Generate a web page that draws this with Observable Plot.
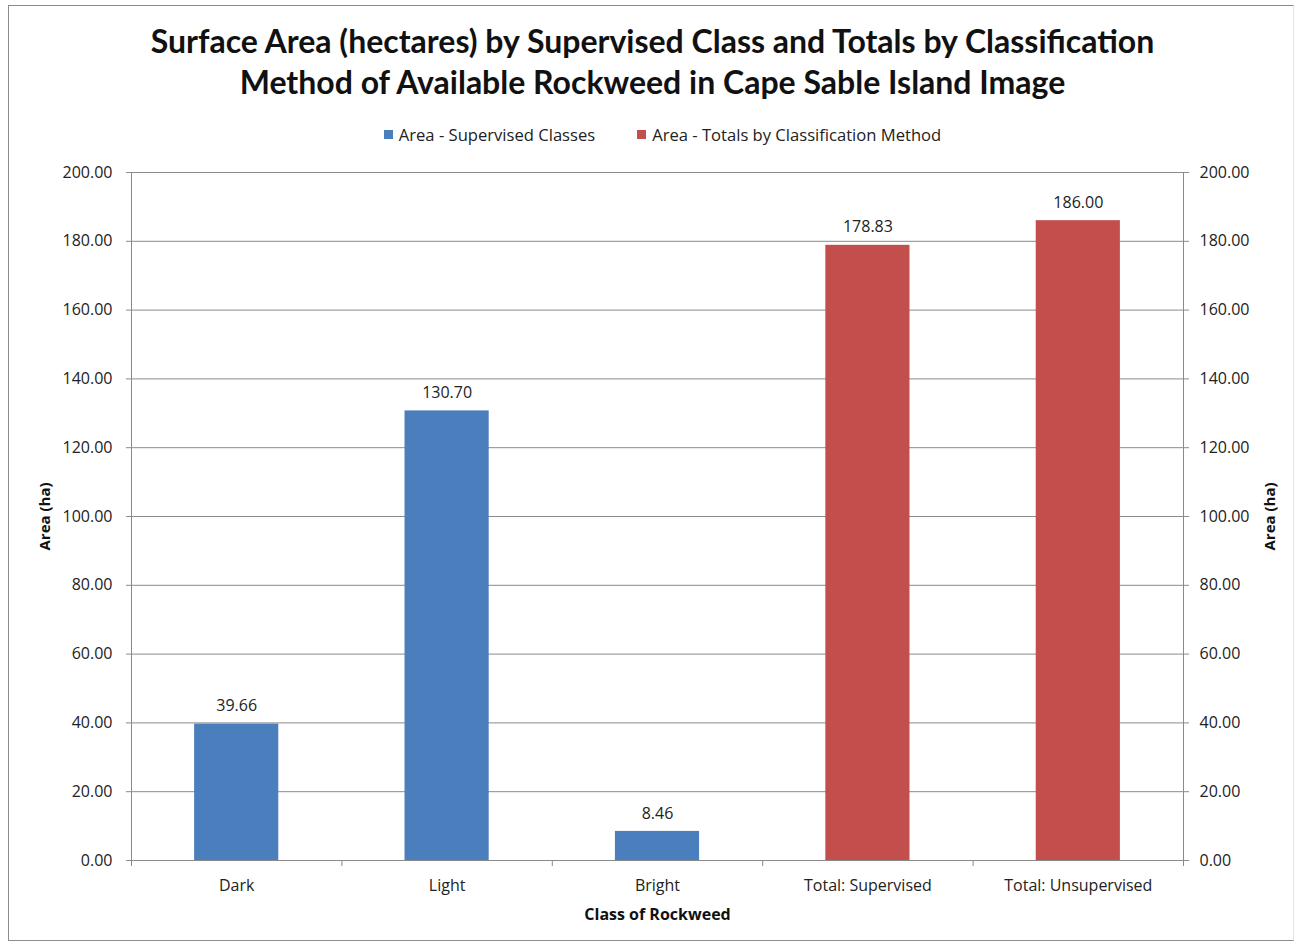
<!DOCTYPE html>
<html>
<head>
<meta charset="utf-8">
<script src="https://cdn.jsdelivr.net/npm/d3@7"></script>
<script src="https://cdn.jsdelivr.net/npm/@observablehq/plot@0.6"></script>
<style>
  html, body { margin: 0; padding: 0; background: #fff; }
  body { width: 1305px; height: 945px; position: relative; overflow: hidden; font-family: "Open Sans", sans-serif; }
  #frame { position: absolute; left: 8px; top: 5px; width: 1286px; height: 936px; border: 1.5px solid #8c8c8c; border-right-color: #e4e4e4; box-sizing: border-box; }
  #title { position: absolute; left: 0; width: 1305px; top: 20px; text-align: center; font-family: "Lato", sans-serif; font-weight: 700; font-size: 32px; line-height: 41px; color: #111; }
  #legend { position: absolute; left: 10px; width: 1305px; top: 123px; display: flex; justify-content: center; gap: 42px; font-size: 16.6px; color: #222; }
  #legend span.item { display: inline-flex; align-items: center; }
  #legend i { display: inline-block; width: 9px; height: 9px; margin-right: 6px; }
  #chart { position: absolute; left: 0; top: 150px; }
</style>
</head>
<body>
<div id="frame"></div>
<div id="title">Surface Area (hectares) by Supervised Class and Totals by Classification<br>Method of Available Rockweed in Cape Sable Island Image</div>
<div id="legend"></div>
<div id="chart"></div>
<script>
// Rockweed classes and classification-method totals (hectares)
const categories = ["Dark", "Light", "Bright", "Total: Supervised", "Total: Unsupervised"];
const areas = [39.66, 130.70, 8.46, 178.83, 186.00];
const seriesNames = ["Area - Supervised Classes", "Area - Totals by Classification Method"];
const seriesOfCategory = [0, 0, 0, 1, 1];
const seriesColors = ["#4a7ebd", "#c24f4c"];
const yTicks = [0, 20, 40, 60, 80, 100, 120, 140, 160, 180, 200];

const rows = categories.map((c, i) => ({category: c, area: areas[i], series: seriesNames[seriesOfCategory[i]]}));

// Legend
const legend = document.getElementById("legend");
seriesNames.forEach((name, i) => {
  const item = document.createElement("span");
  item.className = "item";
  item.innerHTML = `<i style="background:${seriesColors[i]}"></i>${name}`;
  legend.appendChild(item);
});

const W = 1305, H = 792;
const mL = 131, mR = 122;
const step = (W - mL - mR) / categories.length;
const gray = "#8a8a8a";

const plot = Plot.plot({
  width: W,
  height: H,
  marginTop: 22,
  marginBottom: 82,
  marginLeft: mL,
  marginRight: mR,
  style: {fontFamily: "Open Sans, sans-serif", fontSize: "16px", color: "#222", background: "transparent", overflow: "visible"},
  x: {domain: categories, paddingInner: 0.6, paddingOuter: 0.3, round: false, label: null},
  y: {domain: [0, 200], label: null},
  color: {domain: seriesNames, range: seriesColors},
  marks: [
    Plot.gridY(yTicks, {stroke: gray, strokeOpacity: 1, strokeWidth: 1}),
    Plot.frame({stroke: gray, strokeWidth: 1}),
    // category boundary ticks below the baseline
    Plot.ruleX(categories, {x: d => d, dx: -step / 2, y1: 0, y2: -1.75, stroke: gray}),
    Plot.ruleX(categories.slice(-1), {x: d => d, dx: step / 2, y1: 0, y2: -1.75, stroke: gray}),
    Plot.barY(rows, {x: "category", y: "area", fill: "series"}),
    Plot.text(rows, {x: "category", y: "area", text: d => d.area.toFixed(2), dy: -18, fill: "#222", fontSize: 16}),
    Plot.axisY({anchor: "left", ticks: yTicks, tickFormat: d => d.toFixed(2), tickSize: 5, tickPadding: 14, stroke: gray, label: null}),
    Plot.axisY({anchor: "right", ticks: yTicks, tickFormat: d => d.toFixed(2), tickSize: 5, tickPadding: 11, stroke: gray, label: null}),
    Plot.axisX({tickSize: 0, tickPadding: 19, label: null}),
    Plot.text(["Area (ha)"], {frameAnchor: "left", textAnchor: "middle", dx: -86, rotate: -90, fontWeight: "bold", fontSize: 15, fill: "#111"}),
    Plot.text(["Area (ha)"], {frameAnchor: "right", textAnchor: "middle", dx: 87, rotate: -90, fontWeight: "bold", fontSize: 15, fill: "#111"}),
    Plot.text(["Class of Rockweed"], {frameAnchor: "bottom", dy: 59, fontWeight: "bold", fontSize: 16, fill: "#111"})
  ]
});
document.getElementById("chart").appendChild(plot);
</script>
</body>
</html>
